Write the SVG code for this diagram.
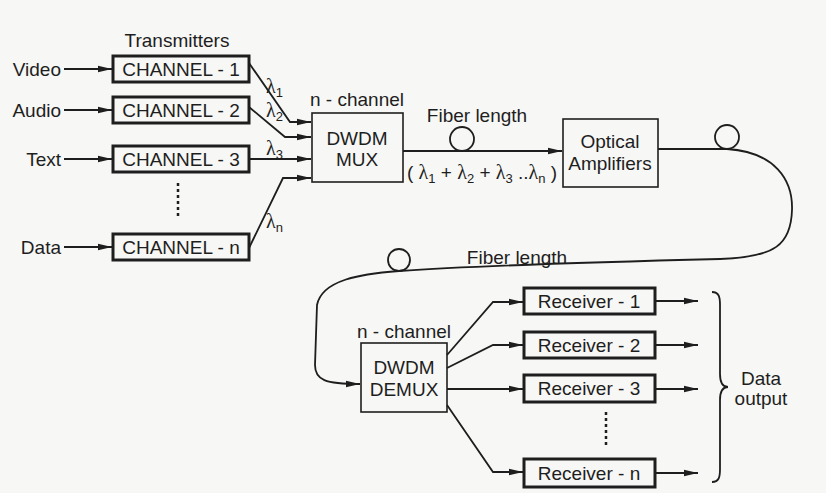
<svg xmlns="http://www.w3.org/2000/svg" width="826" height="493" viewBox="0 0 826 493">
<defs>
<marker id="arr" markerUnits="userSpaceOnUse" markerWidth="14" markerHeight="8" refX="14" refY="4" orient="auto">
<path d="M0,0.8 L14,4 L0,7.2 Z" fill="#1e1e1e"/>
</marker>
<style>
text{font-family:"Liberation Sans",Arial,sans-serif;font-size:19px;fill:#1e1e1e}
.mid{text-anchor:middle}
.end{text-anchor:end}
.lam{font-family:"Liberation Serif","Times New Roman",serif;font-size:20px}
.sub{font-size:13px}
.thick{fill:none;stroke:#1e1e1e;stroke-width:3}
.thin{fill:none;stroke:#1e1e1e;stroke-width:1.6}
.ln{fill:none;stroke:#1e1e1e;stroke-width:1.8}
.dot{fill:none;stroke:#1e1e1e;stroke-width:2.5;stroke-dasharray:3 3}
</style>
</defs>
<rect x="0" y="0" width="826" height="493" fill="#f7f7f5"/>

<text class="mid" x="177" y="47">Transmitters</text>

<g id="video"><text class="end" x="61" y="76">Video</text></g>
<g id="audio"><text class="end" x="61" y="117">Audio</text></g>
<g id="text"><text class="end" x="61" y="166">Text</text></g>
<g id="data"><text class="end" x="61" y="254">Data</text></g>

<g id="ch1"><rect class="thick" x="113" y="56" width="136" height="26"/><text class="mid" x="181" y="76">CHANNEL - 1</text></g>
<g id="ch2"><rect class="thick" x="113" y="97" width="136" height="26"/><text class="mid" x="181" y="117">CHANNEL - 2</text></g>
<g id="ch3"><rect class="thick" x="113" y="146" width="136" height="26"/><text class="mid" x="181" y="166">CHANNEL - 3</text></g>
<g id="chn"><rect class="thick" x="113" y="234" width="136" height="26"/><text class="mid" x="181" y="254">CHANNEL - n</text></g>

<g id="mux"><rect class="thin" x="312" y="113" width="91" height="69"/>
<text class="mid" x="357" y="106">n - channel</text>
<text class="mid" x="357" y="145">DWDM</text>
<text class="mid" x="357" y="166">MUX</text></g>

<g id="amp"><rect class="thin" x="563" y="119" width="95" height="68"/>
<text class="mid" x="610" y="148">Optical</text>
<text class="mid" x="610" y="170">Amplifiers</text></g>

<g id="demux"><rect class="thin" x="361" y="343" width="86" height="69"/>
<text class="mid" x="404" y="338">n - channel</text>
<text class="mid" x="404" y="374">DWDM</text>
<text class="mid" x="404" y="396">DEMUX</text></g>

<g id="rx1"><rect class="thick" x="524" y="288" width="131" height="26"/><text class="mid" x="589" y="308">Receiver - 1</text></g>
<g id="rx2"><rect class="thick" x="524" y="332" width="131" height="26"/><text class="mid" x="589" y="352">Receiver - 2</text></g>
<g id="rx3"><rect class="thick" x="524" y="375" width="131" height="27"/><text class="mid" x="589" y="395">Receiver - 3</text></g>
<g id="rxn"><rect class="thick" x="524" y="459" width="131" height="28"/><text class="mid" x="589" y="480">Receiver - n</text></g>

<g id="out">
<path class="ln" d="M712,292 C719,292 720,297 720,305 L720,374 C720,382 722,387 728,387 C722,387 720,392 720,400 L720,469 C720,477 719,482 712,482" stroke-width="2.4"/>
<text class="mid" x="761" y="385">Data</text>
<text class="mid" x="761" y="405">output</text>
</g>

<g id="connectors">
<path class="ln" d="M64,69 L112,69" marker-end="url(#arr)"/>
<path class="ln" d="M64,110 L112,110" marker-end="url(#arr)"/>
<path class="ln" d="M64,159 L112,159" marker-end="url(#arr)"/>
<path class="ln" d="M64,247 L112,247" marker-end="url(#arr)"/>
<path class="dot" d="M178,183 L178,219"/>

<path class="ln" d="M249,63 L290,122 L311,122" marker-end="url(#arr)"/>
<path class="ln" d="M249,107 L285,137 L311,137" marker-end="url(#arr)"/>
<path class="ln" d="M249,159 L311,159" marker-end="url(#arr)"/>
<path class="ln" d="M249,248 L283,178 L311,178" marker-end="url(#arr)"/>

<path class="ln" d="M403,151 L562,151" marker-end="url(#arr)"/>
<circle class="ln" cx="462" cy="139" r="12"/>

<path class="ln" d="M658,149 L727,149 C775,152 793,180 792,210 C791,245 775,257 720,259 C600,262 470,266 399,271 C360,274 322,280 317,305 L315,365 C315,380 325,384 360,384" marker-end="url(#arr)"/>
<circle class="ln" cx="727" cy="137" r="12"/>
<circle class="ln" cx="399" cy="260" r="11"/>

<path class="ln" d="M447,355 L493,302 L523,302" marker-end="url(#arr)"/>
<path class="ln" d="M447,368 L493,345 L523,345" marker-end="url(#arr)"/>
<path class="ln" d="M447,389 L523,389" marker-end="url(#arr)"/>
<path class="ln" d="M447,405 L493,472 L523,472" marker-end="url(#arr)"/>

<path class="ln" d="M655,301 L698,301" marker-end="url(#arr)"/>
<path class="ln" d="M655,345 L698,345" marker-end="url(#arr)"/>
<path class="ln" d="M655,389 L698,389" marker-end="url(#arr)"/>
<path class="ln" d="M655,473 L698,473" marker-end="url(#arr)"/>
<path class="dot" d="M606,412 L606,448"/>

<text x="266" y="93"><tspan class="lam">λ</tspan><tspan class="sub" dy="4">1</tspan></text>
<text x="266" y="117"><tspan class="lam">λ</tspan><tspan class="sub" dy="4">2</tspan></text>
<text x="266" y="155"><tspan class="lam">λ</tspan><tspan class="sub" dy="4">3</tspan></text>
<text x="266" y="228"><tspan class="lam">λ</tspan><tspan class="sub" dy="4">n</tspan></text>

<text class="mid" x="477" y="122">Fiber length</text>
<text class="mid" x="517" y="264">Fiber length</text>
<text x="407" y="179">( <tspan class="lam">λ</tspan><tspan class="sub" dy="4">1</tspan><tspan dy="-4"> + </tspan><tspan class="lam">λ</tspan><tspan class="sub" dy="4">2</tspan><tspan dy="-4"> + </tspan><tspan class="lam">λ</tspan><tspan class="sub" dy="4">3</tspan><tspan dy="-4"> ..</tspan><tspan class="lam">λ</tspan><tspan class="sub" dy="4">n</tspan><tspan dy="-4"> )</tspan></text>
</g>
</svg>
